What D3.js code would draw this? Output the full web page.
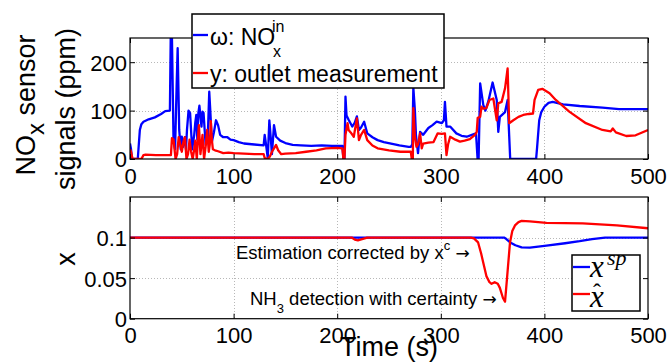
<!DOCTYPE html>
<html>
<head>
<meta charset="utf-8">
<script src="https://cdn.jsdelivr.net/npm/d3@7"></script>
<style>
  html, body { margin: 0; padding: 0; background: #fff; }
  svg { display: block; font-family: "Liberation Sans", Arial, sans-serif; }
</style>
</head>
<body>
<svg id="chart" width="669" height="364"></svg>
<script>
// ---- data: [time (s), value] ----
const timeTicks = [0, 100, 200, 300, 400, 500];
const noxTicks = [0, 100, 200];
const xTicks = [0, 0.05, 0.1];

// inlet NOx (omega), ppm
const inletNOx = [[0,32],[1,20],[2,0],[7.5,0],[9.5,60],[11,72],[13,77],[18,82],[24,86],[30,93],[34,99],[38.5,100],[39.3,250],[40.5,250],[42,40],[43.5,20],[45,150],[46,229],[47.5,60],[49,20],[50,46],[51,25],[53,45],[54,20],[55,60],[56.5,100],[58,95],[60,20],[62,50],[63,75],[64,91],[65,40],[66,95],[67,110],[69,67],[70,98],[71,95],[73,30],[75,40],[76.5,139],[77.5,100],[79,35],[81,55],[83,80],[85,70],[87,50],[90,45],[94,45],[97,40],[100,39],[105,35],[110,32],[120,30],[129,28],[130,50],[131,35],[133,2],[134.5,80],[136,40],[137,10],[139,70],[141,46],[145,38],[150,33],[157,29],[165,28],[175,27],[185,28],[195,27],[205,27],[206,0],[207,0],[208,129],[209,90],[211,81],[214.5,67],[217,75],[219,88],[221,60],[223,65],[226,77],[229,53],[234,45],[239,39],[245,35],[252,32],[260,28],[269,25],[271,25],[272.5,30],[273.5,147],[275,100],[276,50],[278,12],[280,56],[283,50],[288,64],[292,70],[296,77],[301,74],[303,80],[304,118],[305.5,67],[309,67],[315,53],[320,48],[325,46],[330,50],[334,53],[335.5,0],[336.5,0],[338,156],[341,112],[343,100],[346,120],[350,158],[354,122],[355.5,56],[357,87],[362,97],[364.5,122],[367,0],[369,0],[392,0],[393,25],[395,80],[397,97],[400,108],[404,116],[408,118],[418,113],[434,109.5],[456,106],[472,103],[500,103]];

// outlet measurement (y), ppm
const outletNOx = [[0,20],[1,15],[2.5,0],[11,0],[13,8],[15,9],[25,8],[38,8],[39.5,8],[40.5,43],[42,40],[44,0],[45.5,10],[47,45],[48.5,30],[50,15],[51.5,35],[53,45],[54.5,0],[56,10],[57.5,40],[59,15],[60.5,0],[62,20],[63,38],[64.5,0],[65.5,40],[66.5,70],[68,10],[69,30],[70,50],[71.5,0],[73,25],[74.5,60],[76,15],[77,30],[78,78],[79,40],[80,20],[82,18],[85,16],[90,12],[95,13],[100,12],[110,11],[120,10],[129,10],[130,2],[133,0],[135,5],[137,15],[139,22],[141,29],[143,18],[146,10],[150,11],[160,12],[170,15],[180,18],[189,22],[200,23],[205,22],[206,0],[207,0],[208,50],[210,74],[211,60],[213,55],[216,46],[219,84],[221,39],[223,50],[226,60],[229,39],[234,28],[239,22],[250,18],[261,15],[271,15],[272,0],[273,0],[273.5,105],[275,46],[276.5,25],[278,30],[280,53],[281.6,22],[283,32],[288,34],[293,35],[297,53],[301,52],[304,53],[305.5,8],[307,30],[309,46],[314,40],[318.5,36],[323,38],[328,41],[333,50],[334.7,56],[335.6,85],[338,87],[339.3,108],[341,104],[344,105],[347,122],[350.7,125],[354,80],[355.5,115],[358.7,118],[362,146],[364.5,187],[366,74],[370,80],[375,87],[379.6,91],[385,93],[389,94],[390.5,122],[394,143],[398,145],[405,136],[411,122],[424,98],[440,74],[456,60],[464,57],[466,63],[469,55],[479,47.5],[488,49],[500,60]];

// set-point x^sp
const xSetpoint = [[0,0.1],[361,0.1],[363,0.0985],[367,0.094],[372,0.0905],[378,0.088],[386,0.0875],[402,0.09],[420,0.093],[434,0.0955],[446,0.098],[458.5,0.1],[500,0.1]];

// estimate x-hat
const xEstimate = [[0,0.1],[214,0.1],[217,0.0975],[220,0.0965],[224,0.098],[229,0.1],[329,0.1],[332,0.099],[336,0.094],[339,0.08],[341,0.069],[344,0.0525],[347,0.045],[349,0.043],[352,0.045],[355,0.043],[357,0.038],[360,0.0255],[362,0.021],[363.6,0.045],[366.8,0.094],[369,0.108],[371.6,0.115],[375,0.119],[378,0.1205],[386,0.12],[402,0.118],[437,0.1175],[470,0.115],[500,0.1115]];

const BLUE = "#0000ff", RED = "#ff0000";
const svg = d3.select("#chart");
const x = d3.scaleLinear().domain([0, 500]).range([130, 648]);

function panel(id, yScale, yTicks, yFmt, series) {
  const [x0, x1] = x.range();
  const [yb, yt] = yScale.range();
  const g = svg.append("g");
  g.append("clipPath").attr("id", id).append("rect")
    .attr("x", x0).attr("y", yt).attr("width", x1 - x0).attr("height", yb - yt);

  // dotted grid
  const grid = g.append("g").attr("stroke", "#b8b8b8").attr("stroke-width", 1)
    .attr("stroke-dasharray", "1,2");
  grid.selectAll("line.gx").data(timeTicks.slice(1, -1)).join("line")
    .attr("x1", d => Math.round(x(d)) + 0.5).attr("x2", d => Math.round(x(d)) + 0.5)
    .attr("y1", yt).attr("y2", yb);
  grid.selectAll("line.gy").data(yTicks.filter(d => d > yScale.domain()[0])).join("line")
    .attr("y1", d => Math.round(yScale(d)) + 0.5).attr("y2", d => Math.round(yScale(d)) + 0.5)
    .attr("x1", x0).attr("x2", x1);

  // series
  const line = d3.line().x(d => x(d[0])).y(d => yScale(d[1]));
  series.forEach(s => {
    g.append("path").datum(s.data).attr("d", line)
      .attr("fill", "none").attr("stroke", s.color).attr("stroke-width", 2.3)
      .attr("stroke-linejoin", "round").attr("clip-path", `url(#${id})`);
  });

  // axes with inward ticks on all four sides
  const tl = 5;
  const axB = d3.axisBottom(x).tickValues(timeTicks).tickSizeInner(-tl).tickSizeOuter(0).tickPadding(9);
  const axT = d3.axisTop(x).tickValues(timeTicks).tickSizeInner(-tl).tickSizeOuter(0).tickFormat("");
  const axL = d3.axisLeft(yScale).tickValues(yTicks).tickSizeInner(-tl).tickSizeOuter(0).tickPadding(3).tickFormat(yFmt);
  const axR = d3.axisRight(yScale).tickValues(yTicks).tickSizeInner(-tl).tickSizeOuter(0).tickFormat("");
  const gb = g.append("g").attr("transform", `translate(0,${yb})`).call(axB);
  g.append("g").attr("transform", `translate(0,${yt})`).call(axT);
  const gl = g.append("g").attr("transform", `translate(${x0},0)`).call(axL);
  g.append("g").attr("transform", `translate(${x1},0)`).call(axR);
  g.selectAll(".domain").remove();
  g.selectAll(".tick line").attr("stroke", "#000");
  g.selectAll(".tick text").attr("font-family", "Liberation Sans, Arial, sans-serif")
    .attr("font-size", 22).attr("fill", "#000");
  gb.selectAll(".tick text").attr("dy", "0.71em");
  gl.selectAll(".tick text").attr("dy", "0.36em");
  g.append("rect").attr("x", x0).attr("y", yt).attr("width", x1 - x0).attr("height", yb - yt)
    .attr("fill", "none").attr("stroke", "#000").attr("stroke-width", 1.2);
  return g;
}

// ---- top panel: NOx sensor signals ----
const yTop = d3.scaleLinear().domain([0, 250]).range([159, 38]);
panel("clipTop", yTop, noxTicks, d3.format("d"), [
  { data: inletNOx, color: BLUE },
  { data: outletNOx, color: RED }
]);

// ---- bottom panel: x ----
const yBot = d3.scaleLinear().domain([0, 0.15]).range([318.7, 197]);
panel("clipBot", yBot, xTicks, d => d === 0 ? "0" : String(d), [
  { data: xSetpoint, color: BLUE },
  { data: xEstimate, color: RED }
]);

// ---- axis titles ----
const t1 = svg.append("text").attr("transform", "translate(35,105) rotate(-90)")
  .attr("text-anchor", "middle").attr("font-size", 27);
t1.append("tspan").text("NO");
t1.append("tspan").attr("dy", 9).attr("font-size", 24).text("x");
t1.append("tspan").attr("dy", -9).text(" sensor");
svg.append("text").attr("transform", "translate(75,109) rotate(-90)")
  .attr("text-anchor", "middle").attr("font-size", 27).text("signals (ppm)");
svg.append("text").attr("transform", "translate(75,259) rotate(-90)")
  .attr("text-anchor", "middle").attr("font-size", 27).text("x");
svg.append("text").attr("x", 389).attr("y", 356).attr("text-anchor", "middle")
  .attr("font-size", 27).text("Time (s)");

// ---- annotations ----
const a1 = svg.append("text").attr("x", 236).attr("y", 259).attr("font-size", 18.5);
a1.append("tspan").text("Estimation corrected by x");
a1.append("tspan").attr("dy", -9).attr("font-size", 13).text("c");
a1.append("tspan").attr("dy", 9).attr("font-family", "DejaVu Sans").attr("font-size", 17).text(" →");
const a2 = svg.append("text").attr("x", 250).attr("y", 305).attr("font-size", 18.5);
a2.append("tspan").text("NH");
a2.append("tspan").attr("dy", 8).attr("font-size", 13).text("3");
a2.append("tspan").attr("dy", -8).text(" detection with certainty ");
a2.append("tspan").attr("font-family", "DejaVu Sans").attr("font-size", 17).text("→");

// ---- legend, top panel ----
const lg1 = svg.append("g");
lg1.append("rect").attr("x", 192).attr("y", 14).attr("width", 252).attr("height", 74)
  .attr("fill", "#fff").attr("stroke", "#000").attr("stroke-width", 1.5);
lg1.append("line").attr("x1", 193).attr("x2", 208).attr("y1", 35).attr("y2", 35)
  .attr("stroke", BLUE).attr("stroke-width", 2.3);
lg1.append("line").attr("x1", 193).attr("x2", 208).attr("y1", 73).attr("y2", 73)
  .attr("stroke", RED).attr("stroke-width", 2.3);
lg1.append("text").attr("x", 210).attr("y", 45).attr("font-size", 23).text("ω: NO");
lg1.append("text").attr("x", 272).attr("y", 32).attr("font-size", 16).text("in");
lg1.append("text").attr("x", 273).attr("y", 57).attr("font-size", 16).text("x");
lg1.append("text").attr("x", 210).attr("y", 82).attr("font-size", 23).text("y: outlet measurement");

// ---- legend, bottom panel ----
const lg2 = svg.append("g").attr("font-family", "Liberation Serif, serif").attr("font-style", "italic");
lg2.append("rect").attr("x", 572).attr("y", 255).attr("width", 68).attr("height", 56)
  .attr("fill", "#fff").attr("stroke", "#000").attr("stroke-width", 1.5);
lg2.append("line").attr("x1", 573).attr("x2", 590).attr("y1", 267).attr("y2", 267)
  .attr("stroke", BLUE).attr("stroke-width", 2.3);
lg2.append("line").attr("x1", 573).attr("x2", 590).attr("y1", 294).attr("y2", 294)
  .attr("stroke", RED).attr("stroke-width", 2.3);
lg2.append("text").attr("x", 590).attr("y", 277).attr("font-size", 31).text("x");
lg2.append("text").attr("x", 607).attr("y", 265).attr("font-size", 22).text("sp");
lg2.append("text").attr("x", 590).attr("y", 307).attr("font-size", 31).text("x");
lg2.append("text").attr("x", 593).attr("y", 300).attr("font-size", 24).attr("font-style", "normal").text("ˆ");
</script>
</body>
</html>
